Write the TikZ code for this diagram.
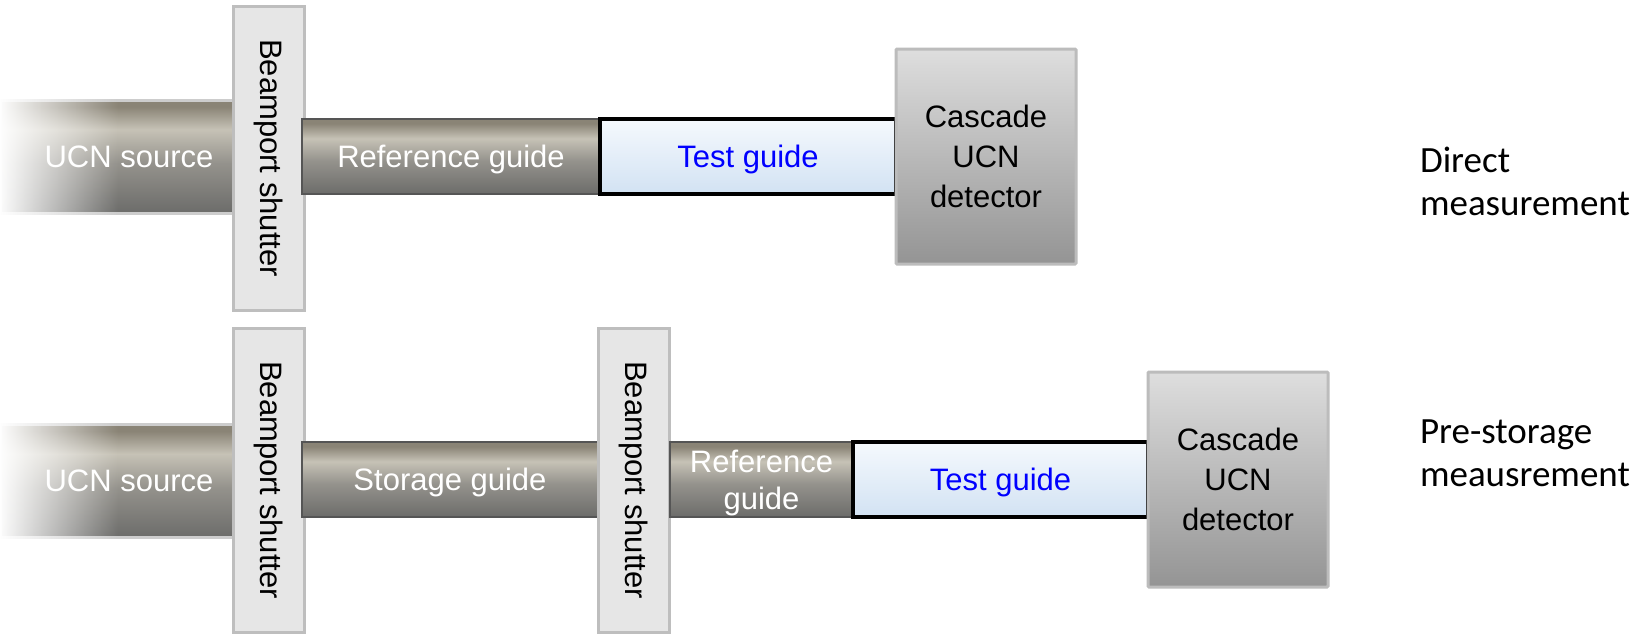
\documentclass[tikz,border=0pt]{standalone}
\usepackage{fontspec}
\setmainfont{Liberation Sans}
\newfontfamily\calibri{Carlito}
\usetikzlibrary{positioning,fadings}
\definecolor{metaltop}{RGB}{138,132,118}
\definecolor{metallight}{RGB}{198,194,182}
\definecolor{metalmid}{RGB}{148,146,140}
\definecolor{metalbot}{RGB}{108,108,106}
\definecolor{guideline}{RGB}{85,85,85}
\definecolor{srcline}{RGB}{205,205,205}
\definecolor{shutterfill}{RGB}{230,230,230}
\definecolor{shutterline}{RGB}{190,190,190}
\definecolor{testtop}{RGB}{245,249,253}
\definecolor{testbot}{RGB}{210,226,243}
\definecolor{dettop}{RGB}{222,222,222}
\definecolor{detbot}{RGB}{148,148,148}
\definecolor{detline}{RGB}{188,188,188}
\pgfdeclareverticalshading{metal}{100bp}{color(0bp)=(metalbot); color(25bp)=(metalbot);
  color(47bp)=(metalmid); color(62bp)=(metallight); color(72bp)=(metaltop);
  color(75bp)=(metaltop); color(100bp)=(metaltop)}
\tikzfading[name=fadesource, left color=transparent!0, right color=transparent!100]
\tikzset{
  every node/.style={font=\fontsize{31}{37}\selectfont, inner sep=0pt, outer sep=0pt},
  source/.style={shading=metal, draw=srcline, line width=3pt, text=white,
    minimum width=258pt, minimum height=113pt},
  shutter/.style={fill=shutterfill, draw=shutterline, line width=3pt, rotate=-90,
    minimum width=304pt, minimum height=71pt},
  guide/.style={shading=metal, draw=guideline, line width=2.5pt, text=white,
    minimum height=75pt, align=center, text depth=0pt},
  testguide/.style={top color=testtop, bottom color=testbot, draw=black,
    line width=3.5pt, text=blue, minimum height=75pt, text depth=0pt},
  detector/.style={top color=dettop, bottom color=detbot, draw=detline, line width=3pt,
    rounded corners=1pt, minimum width=180pt, minimum height=215pt, align=center,
    font=\fontsize{31}{40}\selectfont},
  sidetext/.style={anchor=west, align=left, font=\calibri\fontsize{37}{43}\selectfont}
}
\begin{document}
\begin{tikzpicture}[x=1pt, y=-1pt]
\useasboundingbox (0,0) rectangle (1652,633);
% direct measurement
\node[source] (src1) at (129,156.5) {UCN source};
\fill[white, path fading=fadesource] (-2,96) rectangle (118,217);
\node[shutter] (shut1) at (268.5,158) {Beamport shutter};
\node[guide, minimum width=298pt, anchor=west] (ref1) at (302,156.5) {Reference guide};
\node[testguide, minimum width=296pt, right=0pt of ref1] (test1) {Test guide};
\node[detector, right=0pt of test1] (det1) {Cascade\\UCN\\detector};
\node[sidetext] (lab1) at (1420,181) {Direct\\measurement};
% pre-storage measurement
\node[source] (src2) at (129,481) {UCN source};
\fill[white, path fading=fadesource] (-2,420) rectangle (118,542);
\node[shutter] (shut2) at (268.5,480) {Beamport shutter};
\node[guide, minimum width=296pt, anchor=west] (stor2) at (302,479.5) {Storage guide};
\node[shutter] (shut3) at (634,480) {Beamport shutter};
\node[guide, minimum width=183pt, anchor=west] (ref2) at (670,479.5) {Reference\\guide};
\node[testguide, minimum width=295pt, right=0pt of ref2] (test2) {Test guide};
\node[detector, right=0pt of test2] (det2) {Cascade\\UCN\\detector};
\node[sidetext] (lab2) at (1420,453) {Pre-storage\\meausrement};
\end{tikzpicture}
\end{document}
